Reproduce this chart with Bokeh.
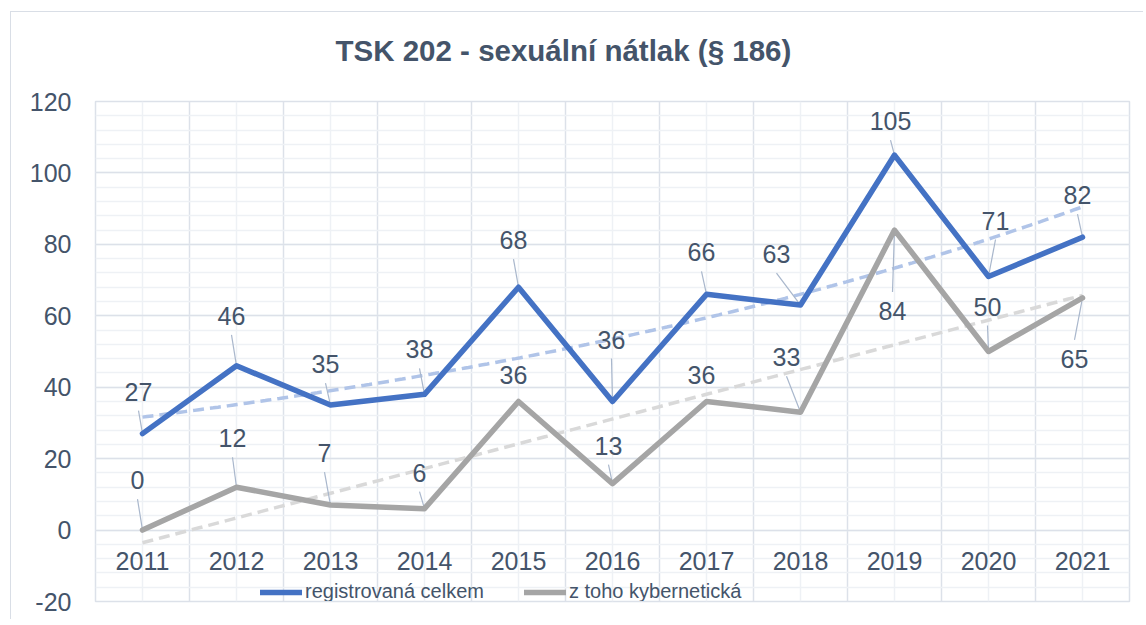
import numpy as np
from bokeh.plotting import figure
from bokeh.models import Range1d, FixedTicker, Grid, Legend, LegendItem, ColumnDataSource, Title
from bokeh.embed import file_html
from bokeh.resources import INLINE
from bokeh.core.properties import value

# ---------------- data ----------------
TITLE = "TSK 202 - sexuální nátlak (§ 186)"
years = [2011, 2012, 2013, 2014, 2015, 2016, 2017, 2018, 2019, 2020, 2021]
registered = [27, 46, 35, 38, 68, 36, 66, 63, 105, 71, 82]       # registrovaná celkem
cyber = [0, 12, 7, 6, 36, 13, 36, 33, 84, 50, 65]                 # z toho kybernetická
series_names = ["registrovaná celkem", "z toho kybernetická"]
y_ticks = [-20, 0, 20, 40, 60, 80, 100, 120]

# ---------------- layout / style ----------------
FONT = "Liberation Sans"
TEXT_COL = "#44546A"
BLUE = "#4472C4"
GREY = "#A5A5A5"
BLUE_TREND = "#B0C4E8"
GREY_TREND = "#D9D9D9"
LEADER_COL = "#A9B7CC"
GRID_MAJOR = "#DCE1E9"
GRID_MINOR = "#EEF1F5"

W, H = 1133, 608
FRAME_L, FRAME_T, FRAME_W, FRAME_H = 84, 89, 1034, 500
X0, X1 = years[0] - 0.5, years[-1] + 0.5
Y0, Y1 = -20, 120
PX_X = FRAME_W / (X1 - X0)
PX_Y = FRAME_H / (Y1 - Y0)

# data-label offsets from their point, in screen px (dx, dy; +dy = down)
REG_OFFSETS = [(-4, -42), (-5, -50), (-5, -41), (-5, -45), (-5, -47), (-1, -62),
               (-5, -42), (-24, -51), (-4, -34), (7, -56), (-5, -42)]
CYB_OFFSETS = [(-5, -50), (-4, -49), (-6, -52), (-5, -36), (-5, -27), (-4, -38),
               (-5, -27), (-14, -55), (-2, 81), (-1, -45), (-8, 61)]
REG_LEADER = [True] * 11
CYB_LEADER = [True, True, True, True, False, True, False, True, True, True, True]
LEADER_GAP = 19

p = figure(width=W, height=H, output_backend="svg", toolbar_location=None,
           x_range=Range1d(X0, X1), y_range=Range1d(Y0, Y1),
           x_axis_location=None, y_axis_location="left",
           min_border_left=FRAME_L, min_border_top=FRAME_T,
           min_border_right=W - FRAME_L - FRAME_W,
           min_border_bottom=H - FRAME_T - FRAME_H)
p.styles = {"border-top": "1px solid #D9DEE6", "border-left": "1px solid #D9DEE6",
            "margin-left": "10px", "margin-top": "11px"}
p.outline_line_color = GRID_MAJOR
p.outline_line_width = 1.5
p.background_fill_color = "white"
p.border_fill_color = "white"
p.title.text = ""

# grids
for g in list(p.grid):
    g.visible = False
xb = [X0 + i for i in range(len(years) + 1)]
p.add_layout(Grid(dimension=0, ticker=FixedTicker(ticks=xb, minor_ticks=years),
                  grid_line_color=GRID_MAJOR, grid_line_width=1.5,
                  minor_grid_line_color=GRID_MINOR, minor_grid_line_width=1.5))
p.add_layout(Grid(dimension=1, ticker=FixedTicker(ticks=y_ticks,
                                                  minor_ticks=list(range(Y0, Y1 + 1, 4))),
                  grid_line_color=GRID_MAJOR, grid_line_width=1.5,
                  minor_grid_line_color=GRID_MINOR, minor_grid_line_width=1.5))

# y axis
ax = p.yaxis[0]
ax.ticker = FixedTicker(ticks=y_ticks)
ax.major_label_overrides = {t: str(t) for t in y_ticks}
ax.axis_line_color = None
ax.major_tick_line_color = None
ax.minor_tick_line_color = None
ax.major_tick_out = 0
ax.major_tick_in = 0
ax.major_label_standoff = 24
ax.major_label_text_font = FONT
ax.major_label_text_font_size = "25px"
ax.major_label_text_color = TEXT_COL

# blank spacer next to the plot frame, then the title above it
p.add_layout(Title(text=" ", text_font_size="10px", text_color="white", standoff=17), "above")
p.add_layout(Title(text=TITLE, align="left", offset=240, standoff=10,
                   text_font=FONT, text_font_style="bold", text_font_size="29.5px",
                   text_color=TEXT_COL), "above")

# trend lines (Excel: exponential for total, linear for cyber)
xi = np.array(years, dtype=float)
b_e, a_e = np.polyfit(xi - years[0] + 1, np.log(registered), 1)
xs = np.linspace(years[0], years[-1], 200)
reg_trend = np.exp(a_e + b_e * (xs - years[0] + 1))
m_l, c_l = np.polyfit(xi, cyber, 1)
cyb_trend = m_l * xs + c_l
p.line(xs, reg_trend, line_color=BLUE_TREND, line_width=3.5, line_dash="11 6")
p.line(xs, cyb_trend, line_color=GREY_TREND, line_width=3.5, line_dash="11 6")

# leader lines
def leaders(vals, offs, flags):
    x0s, y0s, x1s, y1s = [], [], [], []
    for yr, v, (dx, dy), f in zip(years, vals, offs, flags):
        if not f:
            continue
        sy = dy + LEADER_GAP if dy < 0 else dy - LEADER_GAP
        x0s.append(yr + dx / PX_X)
        y0s.append(v - sy / PX_Y)
        x1s.append(yr)
        y1s.append(v)
    return x0s, y0s, x1s, y1s

for vals, offs, flags in [(registered, REG_OFFSETS, REG_LEADER), (cyber, CYB_OFFSETS, CYB_LEADER)]:
    a, b, c, d = leaders(vals, offs, flags)
    p.segment(x0=a, y0=b, x1=c, y1=d, line_color=LEADER_COL, line_width=1.2)

# series
r_reg = p.line(years, registered, line_color=BLUE, line_width=5.5,
               line_join="round", line_cap="round")
r_cyb = p.line(years, cyber, line_color=GREY, line_width=5.5,
               line_join="round", line_cap="round")

# data labels
for vals, offs in [(registered, REG_OFFSETS), (cyber, CYB_OFFSETS)]:
    src = ColumnDataSource(dict(x=years, y=vals, t=[str(v) for v in vals],
                                dx=[o[0] for o in offs], dy=[o[1] for o in offs]))
    p.text(x="x", y="y", text="t", x_offset="dx", y_offset="dy", source=src,
           text_font=value(FONT), text_font_size="25px", text_color=TEXT_COL,
           text_align="center", text_baseline="middle")

# category labels (axis crosses at 0)
p.text(x=years, y=[0] * len(years), text=[str(y) for y in years], y_offset=31,
       text_font=value(FONT), text_font_size="25px", text_color=TEXT_COL,
       text_align="center", text_baseline="middle")

# legend
legend = Legend(items=[LegendItem(label=series_names[0], renderers=[r_reg]),
                       LegendItem(label=series_names[1], renderers=[r_cyb])],
                orientation="horizontal", location=(165, -2),
                glyph_width=42, glyph_height=20, label_standoff=3, spacing=40,
                padding=0, margin=0, background_fill_alpha=0, border_line_alpha=0,
                label_text_font=FONT, label_text_font_size="20px",
                label_text_color=TEXT_COL)
p.add_layout(legend, "center")

open("out.html", "w").write(file_html(p, INLINE))
